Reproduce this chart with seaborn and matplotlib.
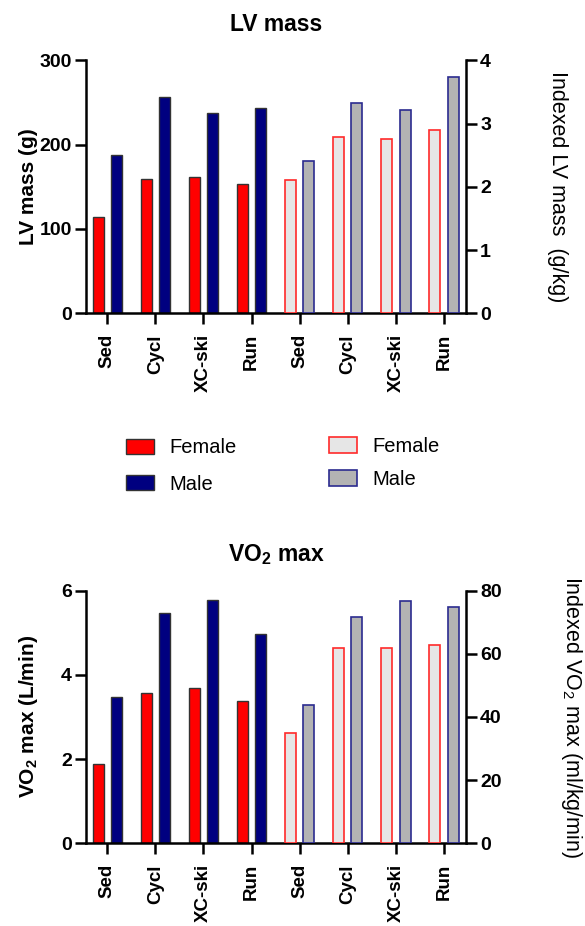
import pandas as pd
import matplotlib
matplotlib.use("Agg")
import matplotlib.pyplot as plt
import seaborn as sns
from matplotlib.patches import Patch

# values
groups = ["Sed", "Cycl", "XC-ski", "Run"]
sexes = ["Female", "Male"]

lv_mass_f = [114, 159, 162, 153]
lv_mass_m = [188, 257, 238, 243]
lv_mass_idx_f = [2.11, 2.79, 2.76, 2.89]
lv_mass_idx_m = [2.40, 3.32, 3.22, 3.73]

vo2_f = [1.88, 3.57, 3.68, 3.38]
vo2_m = [3.47, 5.48, 5.78, 4.98]
vo2_idx_f = [34.8, 61.8, 61.8, 62.8]
vo2_idx_m = [43.7, 71.8, 76.8, 74.7]

order = [f"abs:{g}" for g in groups] + [f"idx:{g}" for g in groups]

sns.set_style("ticks")
plt.rcParams["font.family"] = ["Liberation Sans", "DejaVu Sans"]
plt.rcParams["axes.linewidth"] = 1.8
plt.rcParams["mathtext.default"] = "regular"
for key in ["text.color", "axes.labelcolor", "axes.edgecolor", "xtick.color", "ytick.color"]:
    plt.rcParams[key] = "black"

solid_pal = {"Female": "#FF0000", "Male": "#000080"}
light_pal = {"Female": "#E6E6E6", "Male": "#B3B3B3"}
light_edges = {"Female": "#FF2A2A", "Male": "#2B2B8F"}


def long_df(kind, female, male):
    return pd.DataFrame({
        "slot": [f"{kind}:{g}" for g in groups] * 2,
        "sex": ["Female"] * len(groups) + ["Male"] * len(groups),
        "value": female + male,
    })


def panel(ax, abs_df, idx_df, ylim_l, ticks_l, ylim_r, ticks_r,
          title, ylabel_l, ylabel_r, rlabel_x):
    sns.barplot(data=abs_df, x="slot", y="value", hue="sex", order=order,
                hue_order=sexes, palette=solid_pal, saturation=1, width=0.76, gap=0.4,
                edgecolor="#333333", linewidth=1.0, errorbar=None,
                legend=False, ax=ax)
    ax2 = ax.twinx()
    sns.barplot(data=idx_df, x="slot", y="value", hue="sex", order=order,
                hue_order=sexes, palette=light_pal, saturation=1, width=0.76, gap=0.4,
                linewidth=1.2, errorbar=None, legend=False, ax=ax2)
    for cont, sex in zip(ax2.containers, sexes):
        for bar in cont:
            bar.set_edgecolor(light_edges[sex])

    ax.set_xlim(-0.44, 7.46)
    ax.set_ylim(*ylim_l)
    ax.set_yticks(ticks_l)
    ax2.set_ylim(*ylim_r)
    ax2.set_yticks(ticks_r)

    ax.set_xticks(range(len(order)))
    ax.set_xticklabels(groups * 2, rotation=90, fontsize=13.5, fontweight="bold")
    for lab in ax.get_yticklabels() + ax2.get_yticklabels():
        lab.set_fontsize(14)
        lab.set_fontweight("bold")

    ax.tick_params(axis="both", length=8, width=1.8, pad=2)
    ax.tick_params(axis="x", pad=7)
    ax2.tick_params(axis="y", length=8, width=1.8, pad=2)

    ax.spines[["top", "right"]].set_visible(False)
    ax2.spines[["top", "left", "bottom"]].set_visible(False)

    ax.set_xlabel("")
    ax.set_ylabel(ylabel_l, fontsize=15, fontweight="bold")
    ax.yaxis.set_label_coords(-0.15, 0.5)
    ax.yaxis.label.set_va("center")
    ax.yaxis.label.set_ha("center")

    ax2.set_ylabel(ylabel_r, fontsize=15.5, rotation=270)
    ax2.yaxis.set_label_coords(rlabel_x, 0.5)
    ax2.yaxis.label.set_va("center")
    ax2.yaxis.label.set_ha("center")

    ax.set_title(title, fontsize=16.5, fontweight="bold", pad=21)


fig = plt.figure(figsize=(5.85, 9.26), dpi=100)
ax_top = fig.add_axes([0.147, 0.6617, 0.650, 0.2732])
ax_bot = fig.add_axes([0.147, 0.0893, 0.650, 0.2729])

panel(ax_top, long_df("abs", lv_mass_f, lv_mass_m),
      long_df("idx", lv_mass_idx_f, lv_mass_idx_m),
      (0, 300), [0, 100, 200, 300], (0, 4), [0, 1, 2, 3, 4],
      "LV mass", "LV mass (g)", "Indexed LV mass  (g/kg)", 1.24)

panel(ax_bot, long_df("abs", vo2_f, vo2_m),
      long_df("idx", vo2_idx_f, vo2_idx_m),
      (0, 6), [0, 2, 4, 6], (0, 80), [0, 20, 40, 60, 80],
      r"VO$_\mathregular{2}$ max", r"VO$_\mathregular{2}$ max (L/min)",
      r"Indexed VO$_\mathregular{2}$ max (ml/kg/min)", 1.276)

# legends between the two panels
solid_handles = [Patch(facecolor=solid_pal[s], edgecolor="#333333", linewidth=1.0, label=s)
                 for s in sexes]
light_handles = [Patch(facecolor=light_pal[s], edgecolor=light_edges[s], linewidth=1.2, label=s)
                 for s in sexes]
leg_kw = dict(loc="upper left", frameon=False, fontsize=14.5, handlelength=1.4,
              handleheight=0.8, handletextpad=0.75, borderpad=0, borderaxespad=0)
fig.legend(handles=solid_handles, bbox_to_anchor=(0.2154, 0.5265), labelspacing=0.85, **leg_kw)
fig.legend(handles=light_handles, bbox_to_anchor=(0.5624, 0.528), labelspacing=0.7, **leg_kw)

fig.savefig("out.png", dpi=100)
